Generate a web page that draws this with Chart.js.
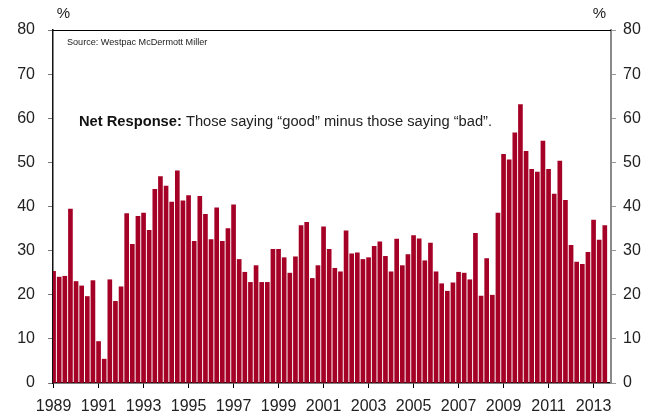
<!DOCTYPE html>
<html>
<head>
<meta charset="utf-8">
<script src="https://cdn.jsdelivr.net/npm/chart.js@4.4.1/dist/chart.umd.min.js"></script>
<style>
  html, body { margin: 0; padding: 0; background: #ffffff; }
  #wrap { position: relative; width: 659px; height: 418px; }
  canvas { display: block; }
</style>
</head>
<body>
<div id="wrap"><canvas id="c" width="659" height="418"></canvas></div>
<script>
// Net response (%), quarterly from 1989 Q1 to 2013 Q3
const startYear = 1989;
const netResponse = [
  25.3, 24.0, 24.2, 39.4,   // 1989
  23.0, 22.0, 19.6, 23.2,   // 1990
  9.4, 5.4, 23.4, 18.5,     // 1991
  21.8, 38.4, 31.4, 37.8,   // 1992
  38.5, 34.6, 43.9, 46.8,   // 1993
  44.6, 41.0, 48.1, 41.3,   // 1994
  42.5, 32.1, 42.3, 38.2,   // 1995
  32.5, 39.7, 32.1, 35.0,   // 1996
  40.4, 28.0, 25.1, 22.8,   // 1997
  26.6, 22.8, 22.8, 30.3,   // 1998
  30.3, 28.4, 24.9, 28.6,   // 1999
  35.7, 36.4, 23.7, 26.6,   // 2000
  35.4, 30.3, 26.0, 25.2,   // 2001
  34.5, 29.3, 29.5, 28.0,   // 2002
  28.4, 31.0, 32.0, 28.7,   // 2003
  25.2, 32.6, 26.6, 29.1,   // 2004
  33.4, 32.7, 27.7, 31.7,   // 2005
  25.2, 22.5, 20.8, 22.7,   // 2006
  25.1, 24.9, 23.4, 33.9,   // 2007
  19.7, 28.2, 19.9, 38.5,   // 2008
  51.8, 50.6, 56.7, 63.1,   // 2009
  52.5, 48.4, 47.8, 54.8,   // 2010
  48.4, 42.8, 50.3, 41.4,   // 2011
  31.2, 27.4, 26.9, 29.6,   // 2012
  36.9, 32.4, 35.7          // 2013
];
const yearTickLabels = ['1989','1991','1993','1995','1997','1999','2001','2003','2005','2007','2009','2011','2013'];
const yTickValues = [0, 10, 20, 30, 40, 50, 60, 70, 80];
const sourceText = 'Source: Westpac McDermott Miller';
const noteBold = 'Net Response:';
const noteText = ' Those saying \u201cgood\u201d minus those saying \u201cbad\u201d.';

const points = netResponse.map((v, i) => ({ x: i, y: v }));

const FONT = '"Liberation Sans", Arial, Helvetica, sans-serif';

const annotations = {
  id: 'annotations',
  afterDraw(chart) {
    const ctx = chart.ctx;
    const a = chart.chartArea;
    ctx.save();
    // top border
    ctx.strokeStyle = '#000';
    ctx.lineWidth = 1;
    ctx.beginPath();
    ctx.moveTo(a.left, a.top + 0.5);
    ctx.lineTo(a.right, a.top + 0.5);
    ctx.stroke();
    ctx.fillStyle = '#222';
    ctx.textBaseline = 'middle';
    ctx.textAlign = 'center';
    ctx.font = '15px ' + FONT;
    ctx.fillText('%', 63.5, 14);
    ctx.fillText('%', 599.5, 14);
    ctx.textAlign = 'left';
    ctx.textBaseline = 'alphabetic';
    ctx.font = '9.1px ' + FONT;
    ctx.fillText(sourceText, 67, 45);
    ctx.font = 'bold 14.7px ' + FONT;
    ctx.fillStyle = '#111';
    ctx.fillText(noteBold, 79, 126);
    const w = ctx.measureText(noteBold).width;
    ctx.font = '14.7px ' + FONT;
    ctx.fillStyle = '#222';
    ctx.fillText(noteText, 79 + w, 126);
    ctx.restore();
  }
};

new Chart(document.getElementById('c'), {
  type: 'bar',
  data: {
    datasets: [{
      data: points,
      backgroundColor: '#A50026',
      borderWidth: 0,
      barThickness: 4.0,
      yAxisID: 'y'
    }]
  },
  options: {
    responsive: false,
    animation: false,
    layout: { padding: { top: 30, left: 0, right: 0, bottom: 0 } },
    plugins: { legend: { display: false }, tooltip: { enabled: false }, title: { display: false } },
    scales: {
      x: {
        type: 'linear',
        offset: false,
        min: -0.1,
        max: 99.1,
        afterFit(s) { s.height = 35; },
        afterBuildTicks(s) { s.ticks = yearTickLabels.map((l, k) => ({ value: k * 8 })); },
        ticks: {
          includeBounds: false,
          autoSkip: false,
          maxRotation: 0,
          padding: 9,
          color: '#222',
          font: { family: FONT, size: 16 },
          callback: (v) => yearTickLabels[Math.round(v / 8)]
        },
        grid: { offset: false, drawOnChartArea: false, drawTicks: true, tickLength: 5, color: '#000', lineWidth: 1 },
        border: { display: true, color: '#000', width: 1.5 }
      },
      y: {
        position: 'left',
        min: 0,
        max: 80,
        afterFit(s) { s.width = 53; },
        afterBuildTicks(s) { s.ticks = yTickValues.map(v => ({ value: v })); },
        ticks: { padding: 13, color: '#222', font: { family: FONT, size: 16 } },
        grid: { drawOnChartArea: false, drawTicks: true, tickLength: 5, color: '#777', lineWidth: 1 },
        border: { display: true, color: '#111', width: 1.5 }
      },
      y2: {
        position: 'right',
        min: 0,
        max: 80,
        afterFit(s) { s.width = 48; },
        afterBuildTicks(s) { s.ticks = yTickValues.map(v => ({ value: v })); },
        ticks: { padding: 7, color: '#222', font: { family: FONT, size: 16 } },
        grid: { drawOnChartArea: false, drawTicks: true, tickLength: 5, color: '#999', lineWidth: 1 },
        border: { display: true, color: '#8a8a8a', width: 2 }
      }
    }
  },
  plugins: [annotations]
});
</script>
</body>
</html>
